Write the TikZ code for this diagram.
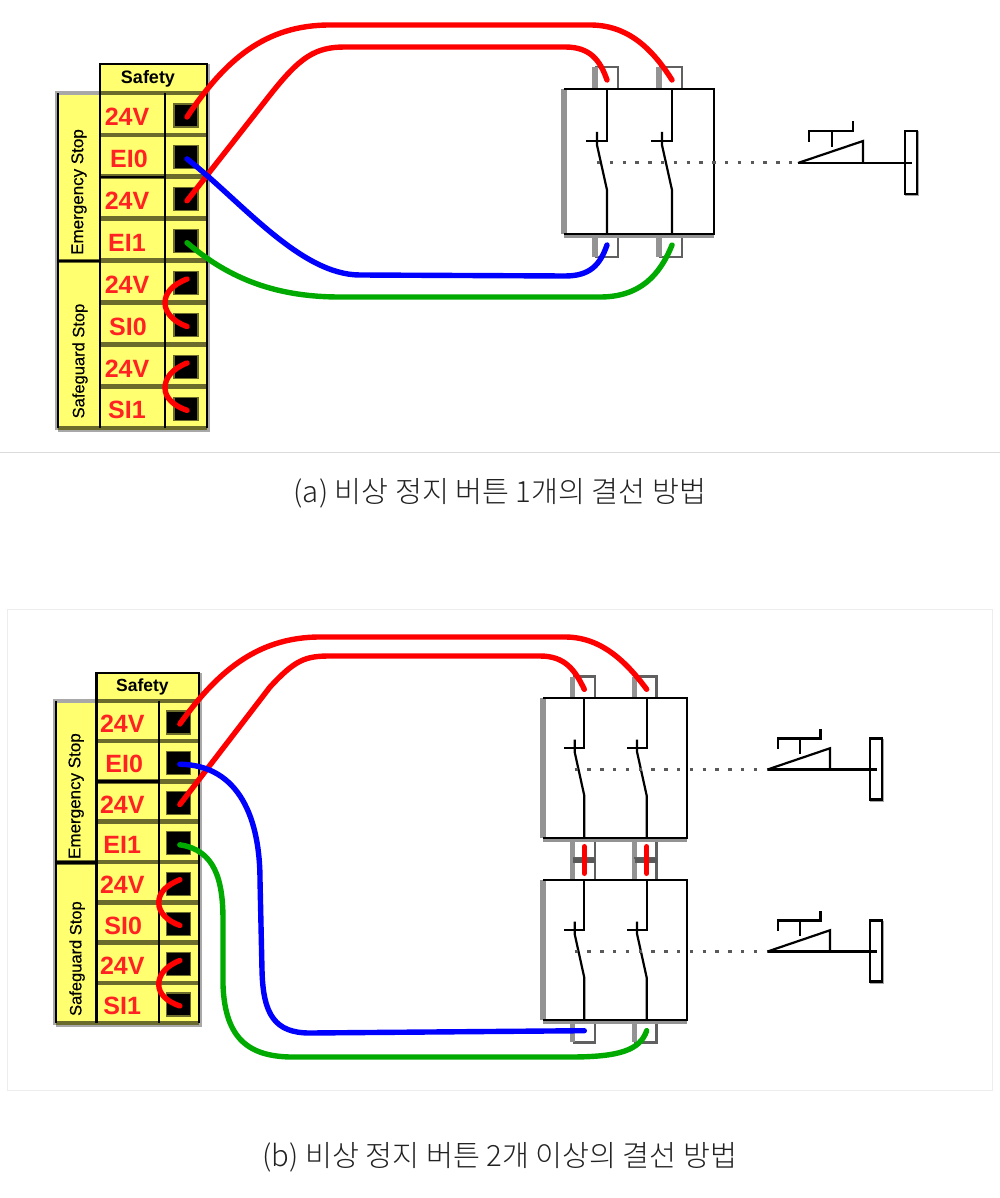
\documentclass[tikz,border=0pt]{standalone}
\usepackage{fontspec}
\setmainfont{Liberation Sans}
\newfontfamily\krfont{Noto Sans CJK KR Light}
\definecolor{blockyellow}{HTML}{FFFF70}
\definecolor{blockolive}{HTML}{6B6B2C}
\definecolor{labelred}{HTML}{FF2222}
\definecolor{wirered}{HTML}{FF0000}
\definecolor{wireblue}{HTML}{0000FF}
\definecolor{wiregreen}{HTML}{00AA00}
\definecolor{shadowgray}{HTML}{A8A8A8}
\definecolor{capink}{HTML}{222222}
\tikzset{
  wirestyle/.style={line width=5.4pt,line cap=round},
  redwire/.style={wirestyle,draw=wirered},
  bluewire/.style={wirestyle,draw=wireblue},
  greenwire/.style={wirestyle,draw=wiregreen},
  gridline/.style={draw=black,line width=2.4pt},
  rowline/.style={draw=blockolive,line width=4.6pt},
  shadowline/.style={draw=shadowgray,line width=3.6pt},
  termsq/.style={fill=black,draw=blockolive,line width=1.2pt,minimum width=24pt,minimum height=23pt,inner sep=0pt},
  vlabel/.style={text=labelred,font=\fontsize{25}{26}\selectfont\bfseries,inner sep=0pt},
  blacklabel/.style={text=black,inner sep=0pt},
  swline/.style={draw=black,line width=2.2pt},
  thickgray/.style={draw=gray!85,line width=5.4pt},
  midgray/.style={draw=gray!75!black,line width=2.6pt},
  dotline/.style={draw=black!65,line width=3pt,dash pattern=on 3.4pt off 9.4pt},
  crossbar/.style={draw=gray!70!black,line width=4.6pt},
  capnode/.style={text=capink,inner sep=0pt,font=\krfont\fontsize{29.3}{32}\selectfont},
  framebox/.style={draw=black!7,line width=1pt},
  divider/.style={draw=black!14,line width=1pt},
}
% terminal block: prefix-less macro, used inside a scope with name prefix
\newcommand{\termblock}[1]{%
  \fill[blockyellow] (42,0) rectangle (149,364);
  \fill[blockyellow] (0,29) rectangle (42,364);
  \draw[shadowline] (150,0) -- (150,366) -- (0,366);
  \draw[shadowline] (-1.5,366) -- (-1.5,29) -- (42,29);
  \foreach \r in {1,2,...,7}{\draw[rowline] (42,{29+41.9*\r}) -- (149,{29+41.9*\r});}
  \draw[rowline] (42,29) -- (149,29);
  \draw[rowline] (0,364) -- (149,364);
  \draw[rowline] (0,197) -- (42,197);
  \draw[gridline] (42,29) -- (42,0) -- (149,0) -- (149,29);
  \draw[gridline] (0,364) -- (0,29);
  \draw[gridline] (0,197) -- (42,197);
  \draw[gridline] (42,29) -- (42,364);
  \draw[gridline] (107,29) -- (107,364);
  \draw[gridline] (42,113) -- (107,113);
  \draw[draw=black,line width=1.4pt] (149,29) -- (149,364);
  \foreach \r/\t/\dx in {0/24V/0,1/EI0/2,2/24V/0,3/EI1/0,4/24V/0,5/SI0/1,6/24V/0,7/SI1/0}{
    \node[vlabel] (lab\r) at ({69+\dx},{53+41.9*\r}) {\t};
    \node[termsq] (sq\r) at (128,{51.5+41.9*\r}) {};
    \coordinate (end\r) at (129,{53+41.9*\r});
  }
  \coordinate (arcA) at (129,215);
  \coordinate (arcB) at (129,299);
  \node[blacklabel,font=\fontsize{#1}{18}\selectfont\bfseries] (safety) at (90,15) {Safety};
  \node[blacklabel,rotate=90,font=\fontsize{17}{18}\selectfont\addfontfeature{FakeBold=0.4}] (emer) at (21,128) {Emergency Stop};
  \node[blacklabel,rotate=90,font=\fontsize{16.5}{18}\selectfont\addfontfeature{FakeBold=0.4}] (safe) at (22,297) {Safeguard Stop};
  \draw[redwire] (arcA) .. controls (114,221) and (107,229) .. (107,239) .. controls (107,249) and (116,258) .. (end5);
  \draw[redwire] (arcB) .. controls (114,305) and (107,314) .. (107,324) .. controls (107,334) and (116,342) .. (end7);
}
% contact block with two poles
\newcommand{\switchunit}{%
  \node[inner sep=0pt,minimum size=0pt] (box) at (75,72.5) {};
  \draw[midgray] (54,0) -- (54,-22) -- (31,-22);
  \draw[thickgray] (31,0) -- (31,-22);
  \draw[midgray] (118,0) -- (118,-22) -- (95,-22);
  \draw[thickgray] (95,0) -- (95,-22);
  \draw[midgray] (54,145) -- (54,168) -- (31,168);
  \draw[thickgray] (31,145) -- (31,168);
  \draw[midgray] (118,145) -- (118,168) -- (95,168);
  \draw[thickgray] (95,145) -- (95,168);
  \draw[thickgray] (0,0) -- (0,145);
  \draw[draw=gray!85,line width=3.6pt] (0,147) -- (150,147);
  \draw[swline] (0,0) -- (150,0) -- (150,145) -- (0,145);
  \foreach \p/\q in {43/1,108/2}{
    \draw[swline] (\p,0) -- (\p,52) -- ({\p-21},52);
    \draw[swline] ({\p-10},43) -- ({\p-10},56) -- (\p,101) -- (\p,145);
    \coordinate (top\q) at (\p,-9);
    \coordinate (bot\q) at (\p,156);
    \coordinate (barL\q) at ({\p-12},168);
    \coordinate (barR\q) at ({\p+11},168);
  }
  \coordinate (dotA) at (33,74);
  \coordinate (dotB) at (234,74);
  \coordinate (pbR) at (348,74);
  \draw[dotline] (dotA) -- (dotB);
  \draw[swline] (dotB) -- (pbR);
  \draw[swline] (dotB) -- (299,52) -- (299,74);
  \draw[swline] (268,58) -- (268,42);
  \draw[swline] (245,53) -- (245,42) -- (289,42) -- (289,32);
  \draw[draw=gray!70,line width=2.6pt] (354,42) -- (354,106) -- (341,106);
  \draw[swline] (341,105) -- (341,42) -- (353,42) -- (353,105) -- cycle;
}
\begin{document}
\begin{tikzpicture}[x=1pt,y=-1pt]
\useasboundingbox (0,0) rectangle (1000,1198);
\fill[white] (0,0) rectangle (1000,1198);
\draw[divider] (0,452.5) -- (1000,452.5);
\draw[framebox] (7.5,609.5) rectangle (992.5,1090);

% ---------- panel (a)
\begin{scope}[shift={(58,64)},name prefix=a-]\termblock{18}\end{scope}
\begin{scope}[shift={(564,89)},name prefix=as-]\switchunit\end{scope}
\draw[redwire] (a-end0) .. controls (225,60) and (265,25) .. (330,25) -- (590,25) .. controls (625,25) and (650,45) .. (as-top2);
\draw[redwire] (a-end2) -- (270,95) .. controls (300,57) and (315,47) .. (345,47) -- (565,47) .. controls (590,47) and (600,60) .. (as-top1);
\draw[bluewire] (a-end1) .. controls (240,200) and (300,275) .. (360,275) -- (565,276) .. controls (590,276) and (600,265) .. (as-bot1);
\draw[greenwire] (a-end3) .. controls (225,275) and (270,297) .. (340,297) -- (600,297) .. controls (640,297) and (660,275) .. (as-bot2);
\node[capnode] (capa) at (500,493) {(a) 비상 정지 버튼 1개의 결선 방법};

% ---------- panel (b)
\begin{scope}[shift={(56,673)},xscale=.96,yscale=.9615,name prefix=b-]\termblock{17.5}\end{scope}
\begin{scope}[shift={(543,698)},xscale=.96,yscale=.966,name prefix=bs-]\switchunit\end{scope}
\begin{scope}[shift={(543,880)},xscale=.96,yscale=.966,name prefix=bt-]\switchunit\end{scope}
\draw[crossbar] (bs-barL1) -- (bs-barR1);
\draw[crossbar] (bs-barL2) -- (bs-barR2);
\draw[redwire,shorten <=-2pt,shorten >=-2pt] (bs-bot1) -- (bt-top1);
\draw[redwire,shorten <=-2pt,shorten >=-2pt] (bs-bot2) -- (bt-top2);
\draw[redwire] (b-end0) .. controls (215,675) and (255,637) .. (320,637) -- (565,637) .. controls (600,637) and (625,660) .. (bs-top2);
\draw[redwire] (b-end2) -- (270,687) .. controls (295,660) and (305,656) .. (330,656) -- (540,656) .. controls (565,656) and (575,670) .. (bs-top1);
\draw[bluewire] (b-end1) .. controls (240,765) and (260,820) .. (260,880) -- (262,970) .. controls (263,1015) and (275,1033) .. (310,1033) -- (bt-bot1);
\draw[greenwire] (b-end3) .. controls (215,850) and (223,880) .. (223,920) -- (223,985) .. controls (225,1040) and (250,1056) .. (290,1057) -- (570,1057) .. controls (620,1057) and (640,1050) .. (bt-bot2);
\node[capnode] (capb) at (500,1157) {(b) 비상 정지 버튼 2개 이상의 결선 방법};
\end{tikzpicture}
\end{document}
